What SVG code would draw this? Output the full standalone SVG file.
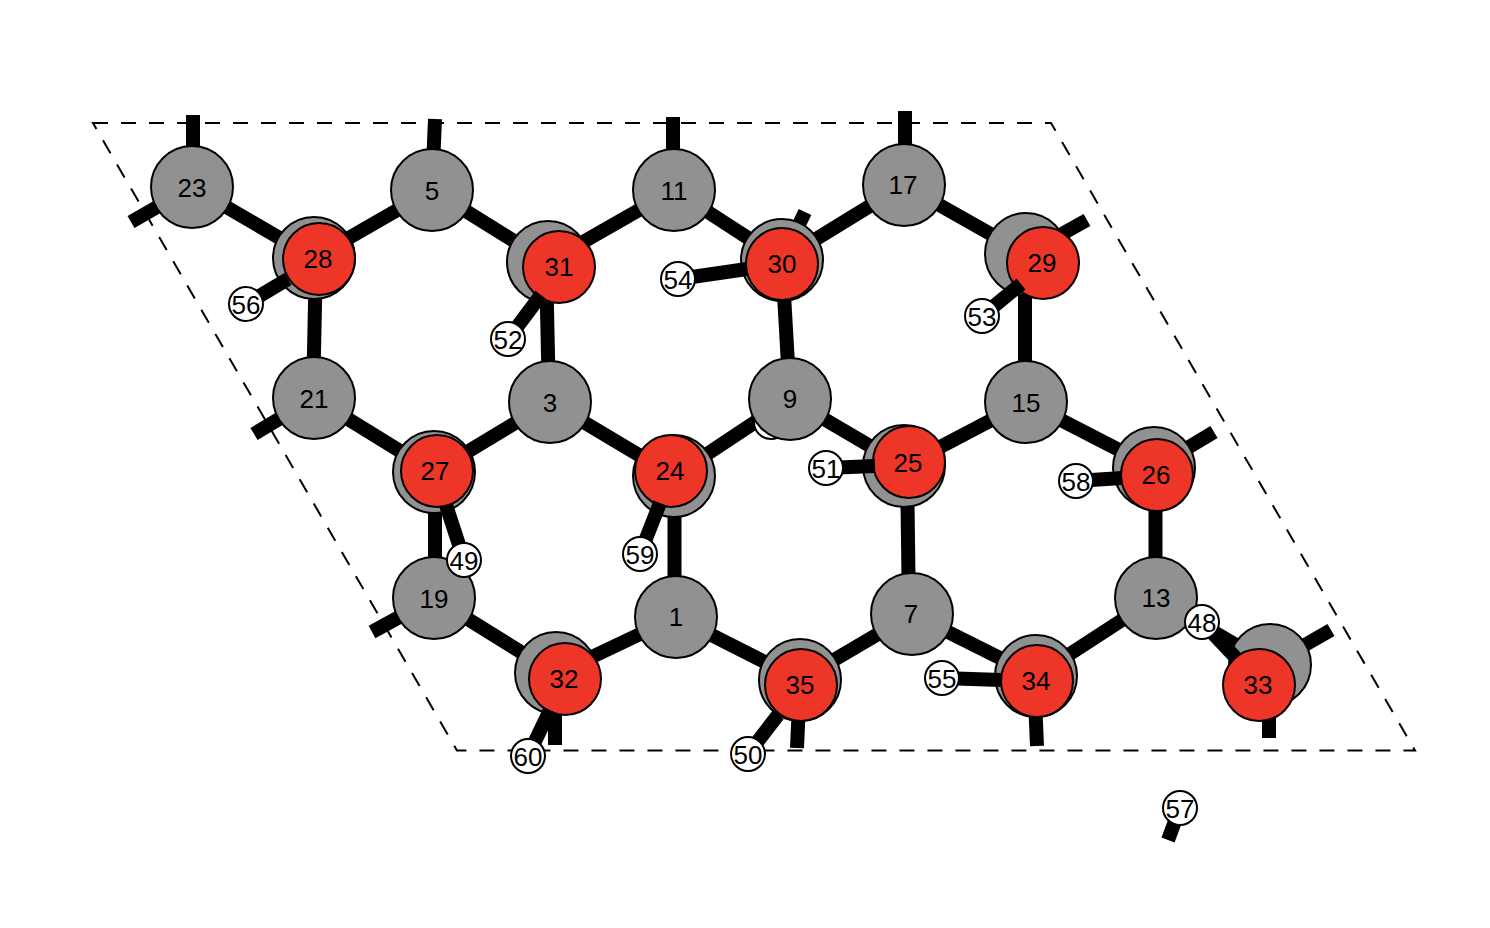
<svg xmlns="http://www.w3.org/2000/svg" width="1490" height="928" viewBox="0 0 1490 928">
<style>
text{font-family:"Liberation Sans",Arial,sans-serif;font-size:26px;text-anchor:middle;fill:#000}
.g{fill:#919191;stroke:#000;stroke-width:2}
.r{fill:#ed3627;stroke:#000;stroke-width:2}
.w{fill:#fff;stroke:#000;stroke-width:2}
line{stroke:#000;stroke-width:14}
</style>
<rect width="1490" height="928" fill="#fff"/>
<path id="cell" d="M93 123H1051L1415 750.500H457Z" fill="none" stroke="#000" stroke-width="2" stroke-dasharray="15 13"/>
<g id="connectors">
<line x1="192" y1="187" x2="314" y2="258"/><line x1="314" y1="258" x2="432" y2="190"/><line x1="432" y1="190" x2="548" y2="262"/><line x1="548" y1="262" x2="674" y2="190"/><line x1="674" y1="190" x2="782" y2="260"/><line x1="782" y1="260" x2="904" y2="185"/><line x1="904" y1="185" x2="1026" y2="254"/>
<line x1="316" y1="258" x2="313" y2="398"/><line x1="546" y1="262" x2="549" y2="402"/><line x1="782" y1="260" x2="790" y2="399"/><line x1="1025" y1="254" x2="1025" y2="402"/>
<line x1="314" y1="398" x2="434" y2="472"/><line x1="434" y1="472" x2="550" y2="402"/><line x1="550" y1="402" x2="674" y2="476"/><line x1="674" y1="476" x2="790" y2="399"/><line x1="790" y1="399" x2="904" y2="466"/><line x1="904" y1="466" x2="1026" y2="402"/><line x1="1026" y1="402" x2="1154" y2="468"/>
<line x1="435" y1="472" x2="435" y2="598"/><line x1="674.500" y1="476" x2="674.500" y2="617"/><line x1="907" y1="466" x2="909" y2="614"/><line x1="1155.500" y1="468" x2="1155.500" y2="598"/>
<line x1="434" y1="598" x2="556" y2="674"/><line x1="556" y1="674" x2="676" y2="617"/><line x1="676" y1="617" x2="800" y2="680"/><line x1="800" y1="680" x2="912" y2="614"/><line x1="912" y1="614" x2="1036" y2="676"/><line x1="1036" y1="676" x2="1156" y2="598"/><line x1="1156" y1="598" x2="1270" y2="665"/>
<line x1="193" y1="115" x2="193" y2="187"/><line x1="131" y1="222" x2="192" y2="187"/><line x1="435" y1="119" x2="432" y2="190"/><line x1="673" y1="117" x2="673" y2="190"/><line x1="905" y1="111" x2="905" y2="185"/><line x1="805" y1="212" x2="782" y2="260"/><line x1="1087" y1="220" x2="1026" y2="254"/><line x1="254" y1="434" x2="314" y2="398"/><line x1="1214" y1="432" x2="1154" y2="468"/><line x1="372" y1="632" x2="434" y2="598"/><line x1="1331" y1="630" x2="1270" y2="665"/><line x1="1269" y1="738" x2="1269" y2="665"/><line x1="1037" y1="746" x2="1034" y2="676"/><line x1="797" y1="748" x2="800" y2="680"/><line x1="555" y1="745" x2="555" y2="674"/>
</g>
<g id="n-hidden"><circle class="w" cx="771" cy="422" r="17"/></g>
<g id="n23"><circle class="g" cx="192" cy="187" r="41"/><text x="192" y="197">23</text></g>
<g id="n5"><circle class="g" cx="432" cy="190" r="41"/><text x="432" y="200">5</text></g>
<g id="n11"><circle class="g" cx="674" cy="190" r="41"/><text x="674" y="200">11</text></g>
<g id="n17"><circle class="g" cx="904" cy="185" r="41"/><text x="903" y="194">17</text></g>
<g id="n21"><circle class="g" cx="314" cy="398" r="41"/><text x="314" y="408">21</text></g>
<g id="n3"><circle class="g" cx="550" cy="402" r="41"/><text x="550" y="412">3</text></g>
<g id="n9"><circle class="g" cx="790" cy="399" r="41"/><text x="790" y="408">9</text></g>
<g id="n15"><circle class="g" cx="1026" cy="402" r="41"/><text x="1026" y="412">15</text></g>
<g id="n19"><circle class="g" cx="434" cy="598" r="41"/><text x="434" y="608">19</text></g>
<g id="n1"><circle class="g" cx="676" cy="617" r="41"/><text x="676" y="626">1</text></g>
<g id="n7"><circle class="g" cx="912" cy="614" r="41"/><text x="911" y="623">7</text></g>
<g id="n13"><circle class="g" cx="1156" cy="598" r="41"/><text x="1156" y="607">13</text></g>
<g id="n28"><circle class="g" cx="314" cy="258" r="41"/><circle class="r" cx="319" cy="259" r="36"/><text x="318" y="268">28</text></g>
<g id="n31"><circle class="g" cx="548" cy="262" r="41"/><circle class="r" cx="559" cy="267" r="36"/><text x="559" y="276">31</text></g>
<g id="n30"><circle class="g" cx="782" cy="260" r="41"/><circle class="r" cx="782" cy="264" r="36"/><text x="782" y="273">30</text></g>
<g id="n29"><circle class="g" cx="1026" cy="254" r="41"/><circle class="r" cx="1043" cy="263" r="36"/><text x="1042" y="272">29</text></g>
<g id="n27"><circle class="g" cx="434" cy="472" r="41"/><circle class="r" cx="437" cy="471" r="36"/><text x="435" y="480">27</text></g>
<g id="n24"><circle class="g" cx="674" cy="476" r="41"/><circle class="r" cx="671" cy="471" r="36"/><text x="670" y="480">24</text></g>
<g id="n25"><circle class="g" cx="904" cy="466" r="41"/><circle class="r" cx="909" cy="462" r="36"/><text x="908" y="472">25</text></g>
<g id="n26"><circle class="g" cx="1154" cy="468" r="41"/><circle class="r" cx="1157" cy="475" r="36"/><text x="1156" y="484">26</text></g>
<g id="n32"><circle class="g" cx="556" cy="673" r="41"/><circle class="r" cx="565" cy="679" r="36"/><text x="564" y="688">32</text></g>
<g id="n35"><circle class="g" cx="800" cy="680" r="41"/><circle class="r" cx="801" cy="685" r="36"/><text x="800" y="694">35</text></g>
<g id="n34"><circle class="g" cx="1036" cy="676" r="41"/><circle class="r" cx="1037" cy="681" r="36"/><text x="1036" y="690">34</text></g>
<g id="n33"><circle class="g" cx="1270" cy="665" r="41"/><circle class="r" cx="1259" cy="685" r="36"/><text x="1258" y="694">33</text></g>
<g id="connectors-h">
<line x1="246" y1="304" x2="288" y2="279"/><line x1="508" y1="339" x2="541" y2="295"/><line x1="678" y1="279" x2="747" y2="269"/><line x1="982" y1="316" x2="1021" y2="284"/><line x1="826" y1="468" x2="875" y2="466"/><line x1="1076" y1="481" x2="1122" y2="478"/><line x1="640" y1="554" x2="660" y2="503"/><line x1="464" y1="560" x2="446" y2="505"/><line x1="942" y1="678" x2="1001" y2="680"/><line x1="528" y1="756" x2="550" y2="710"/><line x1="748" y1="754" x2="778" y2="715"/><line x1="1202" y1="622" x2="1236" y2="658"/><line x1="1168" y1="840" x2="1180" y2="808"/>
</g>
<g id="n56"><circle class="w" cx="246" cy="304" r="17"/><text x="246" y="314">56</text></g>
<g id="n52"><circle class="w" cx="508" cy="339" r="17"/><text x="508" y="349">52</text></g>
<g id="n54"><circle class="w" cx="678" cy="279" r="17"/><text x="678" y="289">54</text></g>
<g id="n53"><circle class="w" cx="982" cy="316" r="17"/><text x="982" y="326">53</text></g>
<g id="n51"><circle class="w" cx="826" cy="468" r="17"/><text x="826" y="478">51</text></g>
<g id="n58"><circle class="w" cx="1076" cy="481" r="17"/><text x="1076" y="491">58</text></g>
<g id="n59"><circle class="w" cx="640" cy="554" r="17"/><text x="640" y="564">59</text></g>
<g id="n49"><circle class="w" cx="464" cy="560" r="17"/><text x="464" y="570">49</text></g>
<g id="n55"><circle class="w" cx="942" cy="678" r="17"/><text x="942" y="688">55</text></g>
<g id="n60"><circle class="w" cx="528" cy="756" r="17"/><text x="528" y="766">60</text></g>
<g id="n50"><circle class="w" cx="748" cy="754" r="17"/><text x="748" y="764">50</text></g>
<g id="n48"><circle class="w" cx="1202" cy="622" r="17"/><text x="1202" y="632">48</text></g>
<g id="n57"><circle class="w" cx="1180" cy="808" r="17"/><text x="1180" y="818">57</text></g>
</svg>
